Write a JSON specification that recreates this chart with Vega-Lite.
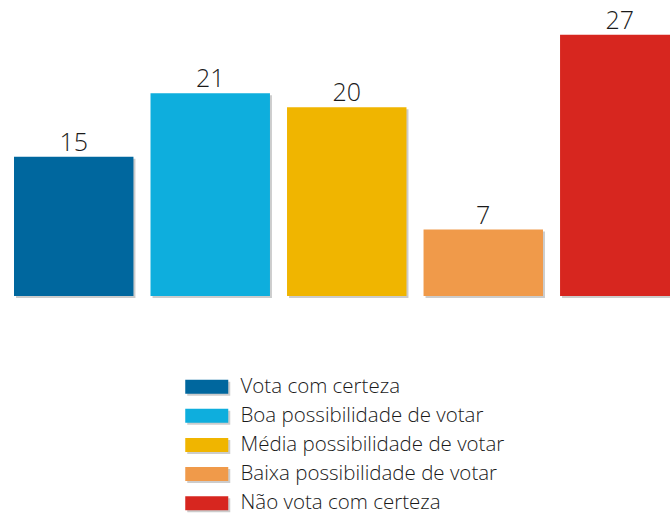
{
  "$schema": "https://vega.github.io/schema/vega-lite/v6.json",
  "width": 670,
  "height": 513,
  "autosize": {"type": "none"},
  "padding": 0,
  "config": {"view": {"stroke": null}, "font": "Open Sans"},
  "data": {
    "values": [
      {"categoria": "Vota com certeza", "cat2": "s1", "valor": 14.4, "rotulo": "15"},
      {"categoria": "Boa possibilidade de votar", "cat2": "s2", "valor": 20.96, "rotulo": "21"},
      {"categoria": "Média possibilidade de votar", "cat2": "s3", "valor": 19.5, "rotulo": "20"},
      {"categoria": "Baixa possibilidade de votar", "cat2": "s4", "valor": 6.87, "rotulo": "7"},
      {"categoria": "Não vota com certeza", "cat2": "s5", "valor": 27.02, "rotulo": "27"}
    ]
  },
  "encoding": {
    "x": {
      "field": "categoria",
      "type": "nominal",
      "sort": null,
      "axis": null,
      "scale": {"range": [0, 693.5], "paddingInner": 0.125, "paddingOuter": 0.1026}
    },
    "y": {
      "field": "valor",
      "type": "quantitative",
      "axis": null,
      "scale": {"domain": [0, 30.6], "range": [296, 0], "nice": false}
    }
  },
  "layer": [
    {
      "mark": {"type": "bar", "xOffset": 2, "yOffset": 2},
      "encoding": {
        "fill": {
          "field": "cat2",
          "type": "nominal",
          "scale": {"range": ["#cccccc"]},
          "legend": {
            "orient": "none",
            "legendX": 184,
            "legendY": 378.5,
            "title": null,
            "padding": 0,
            "zindex": 0,
            "symbolType": "M-1,-1H5.143V1H-1Z",
            "symbolSize": 196,
            "symbolStrokeWidth": 0,
            "symbolOpacity": 1,
            "labelExpr": "''",
            "labelOffset": 38,
            "labelFontSize": 20.5,
            "labelLimit": 400,
            "rowPadding": 8.1
          }
        }
      }
    },
    {
      "mark": {"type": "bar"},
      "encoding": {
        "color": {
          "field": "categoria",
          "type": "nominal",
          "scale": {
            "domain": ["Vota com certeza", "Boa possibilidade de votar", "Média possibilidade de votar", "Baixa possibilidade de votar", "Não vota com certeza"],
            "range": ["#00679e", "#0eaedd", "#f0b500", "#f09a4a", "#d7261f"]
          },
          "legend": {
            "orient": "none",
            "legendX": 182,
            "legendY": 376.5,
            "title": null,
            "padding": 0,
            "zindex": 1,
            "symbolType": "M-1,-1H5.143V1H-1Z",
            "symbolSize": 196,
            "symbolStrokeWidth": 0,
            "symbolOpacity": 1,
            "labelOffset": 38,
            "labelFont": "Open Sans",
            "labelFontSize": 20.5,
            "labelFontWeight": 300,
            "labelColor": "#1a1a1a",
            "labelLimit": 400,
            "rowPadding": 8.1
          }
        }
      }
    },
    {
      "mark": {"type": "text", "baseline": "alphabetic", "dy": -6, "fontSize": 25, "fontWeight": 300, "font": "Open Sans", "color": "#1a1a1a"},
      "encoding": {"text": {"field": "rotulo"}}
    }
  ]
}
